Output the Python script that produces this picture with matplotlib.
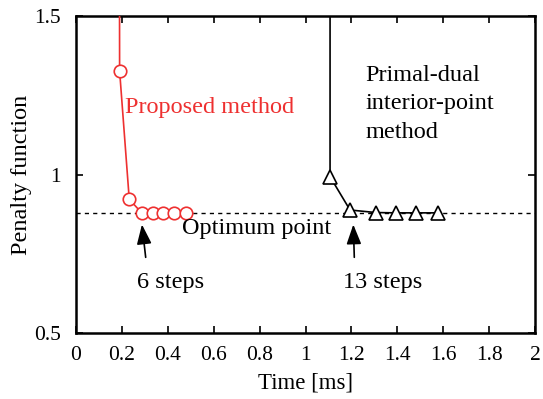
import numpy as np
import matplotlib
matplotlib.use('Agg')
import matplotlib.pyplot as plt

plt.rcParams['font.family'] = ['Liberation Serif', 'DejaVu Serif']

# --- data ---
prop_time = [0.189, 0.19, 0.232, 0.286, 0.334, 0.378, 0.427, 0.479]
prop_pen = [2.0, 1.327, 0.922, 0.879, 0.878, 0.878, 0.878, 0.878]

pd_time = [1.107, 1.107, 1.194, 1.306, 1.393, 1.481, 1.579]
pd_pen = [2.0, 0.993, 0.888, 0.880, 0.879, 0.879, 0.879]

optimum = 0.878
x_ticks = [0, 0.2, 0.4, 0.6, 0.8, 1, 1.2, 1.4, 1.6, 1.8, 2]
y_ticks = [0.5, 1, 1.5]

red = '#ee3030'

fig = plt.figure(figsize=(5.43, 3.99), dpi=100)
ax = fig.add_axes([76 / 543, 1 - 333 / 399, (535 - 76) / 543, (333 - 16) / 399])

ax.axhline(optimum, color='black', lw=1.0, ls=(0, (3, 3)), zorder=1)

ax.plot(prop_time, prop_pen, color=red, lw=1.2, marker='o', markersize=9,
        markerfacecolor='white', markeredgecolor=red, markeredgewidth=1.2,
        markevery=list(range(1, len(prop_time))), zorder=3)
ax.plot(pd_time, pd_pen, color='black', lw=1.2, marker='^', markersize=10,
        markerfacecolor='white', markeredgecolor='black', markeredgewidth=1.2,
        markevery=list(range(1, len(pd_time))), zorder=3)

ax.set_xlim(0, 2)
ax.set_ylim(0.5, 1.5)
ax.set_xticks(x_ticks)
ax.set_xticklabels(['0', '0.2', '0.4', '0.6', '0.8', '1', '1.2', '1.4', '1.6', '1.8', '2'])
ax.set_yticks(y_ticks)
ax.set_yticklabels(['0.5', '1', '1.5'])
ax.tick_params(direction='in', length=5, width=1.2, top=True, right=True,
               labelsize=15.5)
ax.tick_params(axis='x', pad=9)
ax.tick_params(axis='y', pad=11)
for s in ax.spines.values():
    s.set_linewidth(1.8)

ax.set_xlabel('Time [ms]', fontsize=16.5, labelpad=6)
ax.set_ylabel('Penalty function', fontsize=17.5, labelpad=1)

fs = 17.5
ax.text(0.213, 1.21, 'Proposed method', color=red, fontsize=fs, va='center', ha='left')
ax.text(1.26, 1.345, 'Primal-dual\ninterior-point\nmethod', color='black', fontsize=fs,
        va='top', ha='left', linespacing=1.45)
ax.text(0.46, 0.831, 'Optimum point', fontsize=fs, va='center', ha='left')
ax.text(0.266, 0.658, '6 steps', fontsize=fs, va='center', ha='left')
ax.text(1.163, 0.658, '13 steps', fontsize=fs, va='center', ha='left')

arrow = dict(arrowstyle='-|>,head_length=1.2,head_width=0.45', color='black', lw=1.2)
ax.annotate('', xy=(0.286, 0.851), xytext=(0.305, 0.730), arrowprops=arrow)
ax.annotate('', xy=(1.208, 0.851), xytext=(1.213, 0.730), arrowprops=arrow)

fig.savefig('out.png', dpi=100)
